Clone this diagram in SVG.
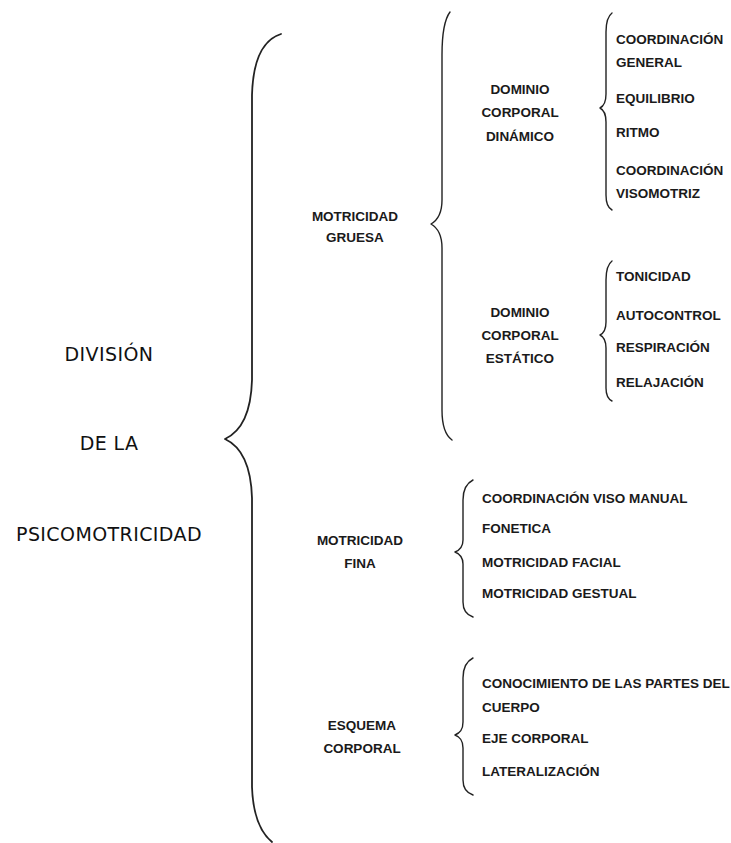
<svg xmlns="http://www.w3.org/2000/svg" width="731" height="843" viewBox="0 0 731 843">
<style>
.big{font-family:"DejaVu Sans","Liberation Sans",sans-serif;font-size:19px;letter-spacing:0.4px;fill:#111;text-anchor:middle}
.s{font-family:"Liberation Sans",Arial,sans-serif;font-size:13.5px;font-weight:bold;fill:#1a1a1a}
.c{text-anchor:middle}
.br{fill:none;stroke:#222;stroke-width:1.4;stroke-linecap:round;stroke-linejoin:round}
</style>
<rect width="731" height="843" fill="#fff"/>
<g id="connectors">
<path class="br" style="stroke-width:1.8" d="M281,34 C262,40 253,60 252,95 L252,380 C251,415 240,432 225,439 C240,446 251,463 252,498 L252,787 C253,815 260,832 272,842"/>
<path class="br" d="M450,12 C444,20 442,35 442,55 L442,200 C442,213 438,220 431,224 C438,228 442,235 442,248 L442,410 C442,425 445,435 452,440"/>
<path class="br" d="M612,13 C608,16 606,22 606,32 L606,94 C606,102 604,106 600,108 C604,110 606,114 606,122 L606,195 C606,204 608,208 612,210"/>
<path class="br" d="M612,261 C608,264 606,270 606,280 L606,322 C606,330 604,333 600,335 C604,337 606,340 606,348 L606,388 C606,396 608,399 612,401"/>
<path class="br" d="M473,480 C467,483 463,490 463,500 L463,540 C463,547 460,550 455,552 C460,554 463,557 463,564 L463,602 C463,611 467,615 473,617"/>
<path class="br" d="M473,658 C467,661 463,668 463,678 L463,722 C463,730 460,733 455,735 C460,737 463,740 463,748 L463,780 C463,789 467,793 473,795"/>
</g>
<g id="root">
<text class="big" x="109" y="361">DIVISIÓN</text>
<text class="big" x="109" y="450">DE LA</text>
<text class="big" x="109" y="541">PSICOMOTRICIDAD</text>
</g>
<g id="motricidad-gruesa">
<text class="s c" x="355" y="221">MOTRICIDAD</text>
<text class="s c" x="355" y="242">GRUESA</text>
</g>
<g id="dominio-dinamico">
<text class="s c" x="520" y="94">DOMINIO</text>
<text class="s c" x="520" y="117">CORPORAL</text>
<text class="s c" x="520" y="141">DINÁMICO</text>
</g>
<g id="dinamico-items">
<text class="s" x="616" y="44">COORDINACIÓN</text>
<text class="s" x="616" y="67">GENERAL</text>
<text class="s" x="616" y="103">EQUILIBRIO</text>
<text class="s" x="616" y="137">RITMO</text>
<text class="s" x="616" y="175">COORDINACIÓN</text>
<text class="s" x="616" y="198">VISOMOTRIZ</text>
</g>
<g id="dominio-estatico">
<text class="s c" x="520" y="317">DOMINIO</text>
<text class="s c" x="520" y="340">CORPORAL</text>
<text class="s c" x="520" y="363">ESTÁTICO</text>
</g>
<g id="estatico-items">
<text class="s" x="616" y="281">TONICIDAD</text>
<text class="s" x="616" y="320">AUTOCONTROL</text>
<text class="s" x="616" y="352">RESPIRACIÓN</text>
<text class="s" x="616" y="387">RELAJACIÓN</text>
</g>
<g id="motricidad-fina">
<text class="s c" x="360" y="545">MOTRICIDAD</text>
<text class="s c" x="360" y="568">FINA</text>
</g>
<g id="fina-items">
<text class="s" x="482" y="503">COORDINACIÓN VISO MANUAL</text>
<text class="s" x="482" y="533">FONETICA</text>
<text class="s" x="482" y="567">MOTRICIDAD FACIAL</text>
<text class="s" x="482" y="598">MOTRICIDAD GESTUAL</text>
</g>
<g id="esquema-corporal">
<text class="s c" x="362" y="730">ESQUEMA</text>
<text class="s c" x="362" y="753">CORPORAL</text>
</g>
<g id="esquema-items">
<text class="s" x="482" y="688">CONOCIMIENTO DE LAS PARTES DEL</text>
<text class="s" x="482" y="712">CUERPO</text>
<text class="s" x="482" y="743">EJE CORPORAL</text>
<text class="s" x="482" y="776">LATERALIZACIÓN</text>
</g>
</svg>
